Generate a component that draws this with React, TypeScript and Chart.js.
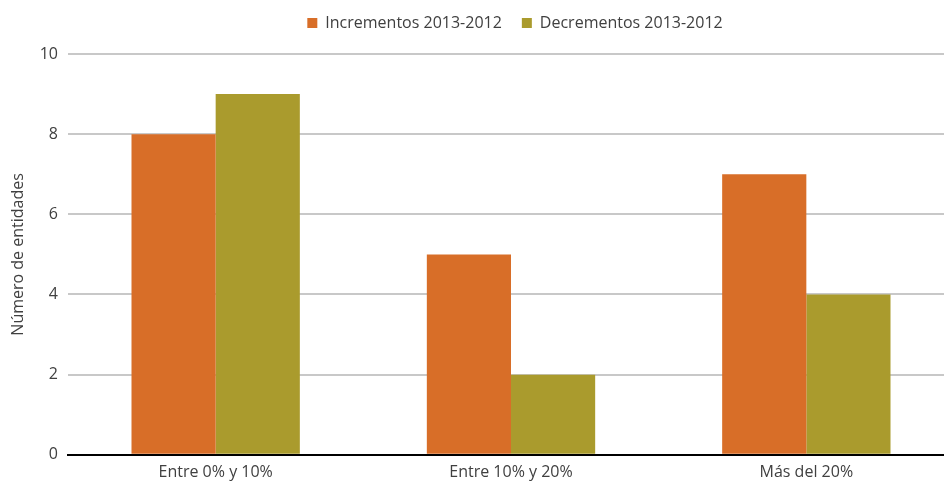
import React, { useEffect, useRef } from "react";
import { Chart, registerables } from "chart.js";

Chart.register(...registerables);

const categories = ["Entre 0% y 10%", "Entre 10% y 20%", "Más del 20%"];
const incrementos = [8, 5, 7];
const decrementos = [9, 2, 4];
const seriesNames = ["Incrementos 2013-2012", "Decrementos 2013-2012"];
const yTicks = [0, 2, 4, 6, 8, 10];

const FONT = "'Open Sans', 'Noto Sans', sans-serif";
const TEXT = "#404040";

const legendShift = {
  id: "legendShift",
  afterLayout(chart: any) {
    const lg = chart.legend;
    if (lg) {
      lg.left += 38;
      lg.right += 38;
      lg.top -= 13;
      lg.bottom -= 13;
    }
  },
};

export default function App() {
  const ref = useRef<HTMLCanvasElement | null>(null);
  useEffect(() => {
    document.body.style.margin = "0";
    const ctx = ref.current!;
    const chart = new Chart(ctx, {
      type: "bar",
      data: {
        labels: categories,
        datasets: [
          {
            label: seriesNames[0],
            data: incrementos,
            backgroundColor: "#D86E28",
            categoryPercentage: 0.57,
            barPercentage: 1,
          },
          {
            label: seriesNames[1],
            data: decrementos,
            backgroundColor: "#AA9B2D",
            categoryPercentage: 0.57,
            barPercentage: 1,
          },
        ],
      },
      plugins: [legendShift],
      options: {
        animation: false,
        responsive: false,
        maintainAspectRatio: false,
        layout: { padding: { top: 8, right: 0, bottom: -9, left: 0 } },
        plugins: {
          legend: {
            position: "top",
            labels: {
              font: { family: FONT, size: 16 },
              color: TEXT,
              boxWidth: 10,
              boxHeight: 10,
              padding: 20,
            },
          },
          tooltip: { enabled: false },
        },
        scales: {
          x: {
            grid: { display: false, drawTicks: false },
            border: { color: "#000000", width: 2 },
            ticks: {
              font: { family: FONT, size: 16 },
              color: TEXT,
              padding: 8,
            },
          },
          y: {
            min: 0,
            max: 10,
            afterBuildTicks: (s: any) => {
              s.ticks = yTicks.map((v) => ({ value: v }));
            },
            afterFit: (s: any) => {
              s.width = 68;
            },
            grid: {
              color: "#C8C8C8",
              lineWidth: 2,
              drawTicks: false,
            },
            border: { display: false },
            ticks: {
              font: { family: FONT, size: 16 },
              color: TEXT,
              padding: 10,
            },
            title: {
              display: true,
              text: "Número de entidades",
              font: { family: FONT, size: 16 },
              color: TEXT,
              padding: { top: 9, bottom: 0 },
            },
          },
        },
      },
    });
    return () => chart.destroy();
  }, []);
  return (
    <div style={{ position: "fixed", left: 0, top: 0, width: 944, height: 481, overflow: "hidden" }}>
      <canvas ref={ref} width={954} height={481} style={{ display: "block" }} />
    </div>
  );
}
